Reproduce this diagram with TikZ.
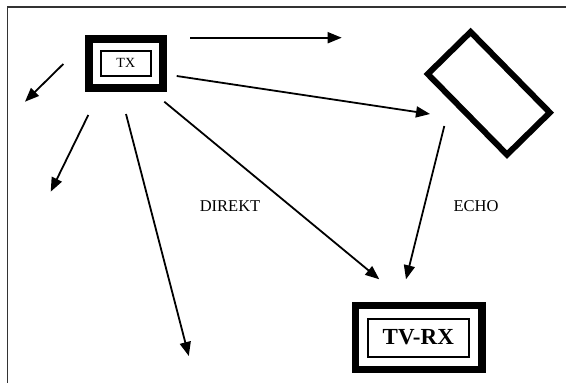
\documentclass[tikz,border=0pt]{standalone}
\usepackage{fontspec}
\setmainfont{Liberation Serif}
\usetikzlibrary{arrows.meta}
\begin{document}
\begin{tikzpicture}[x=1pt,y=-1pt,
  ray/.style={line width=1.8pt,-{Triangle[length=14pt,width=11pt]}},
  thickbox/.style={draw,line width=8pt,inner sep=0pt,rectangle},
  thinbox/.style={draw,line width=1.6pt,inner sep=0pt,rectangle},
  lbl/.style={font=\fontsize{16.5}{18}\selectfont}]
\useasboundingbox (0,0) rectangle (566,383);
\draw[line width=1.3pt,color=black!80] (7.5,383) -- (7.5,7) -- (566,7);
% TX
\node[thickbox,minimum width=74pt,minimum height=49pt] (tx) at (126.2,63.3) {};
\node[thinbox,minimum width=50pt,minimum height=25pt,font=\fontsize{14}{16}\selectfont] (txin) at (125.8,63.3) {TX};
% TV-RX
\node[thickbox,line width=7.7pt,minimum width=126.5pt,minimum height=64pt] (rx) at (418.8,337.5) {};
\node[thinbox,line width=2pt,minimum width=101pt,minimum height=38pt,font=\fontsize{23}{25}\selectfont\bfseries] (rxin) at (418.3,337.5) {TV-RX};
% Echo reflector
\node[draw,line width=6pt,rectangle,inner sep=0pt,minimum width=113pt,minimum height=60pt,rotate=-45.5] (echo) at (488.8,93.3) {};
% labels
\node[lbl] (direkt) at (230,206) {DIREKT};
\node[lbl] (echolbl) at (476,206) {ECHO};
% coordinates
\coordinate (a1s) at (63.3,64);   \coordinate (a1e) at (25,101.7);
\coordinate (a2s) at (88.3,115);  \coordinate (a2e) at (50.7,191.7);
\coordinate (a3s) at (126,114);   \coordinate (a3e) at (188.8,356);
\coordinate (a4s) at (164.3,101.7); \coordinate (a4e) at (379.3,279.3);
\coordinate (a5s) at (190,37.7);  \coordinate (a5e) at (341.7,37.7);
\coordinate (a6s) at (176.7,76);  \coordinate (a6e) at (430,114);
\coordinate (a7s) at (444.3,126); \coordinate (a7e) at (406,279.3);
\draw[ray] (a1s) -- (a1e);
\draw[ray] (a2s) -- (a2e);
\draw[ray] (a3s) -- (a3e);
\draw[ray] (a4s) -- (a4e);
\draw[ray] (a5s) -- (a5e);
\draw[ray] (a6s) -- (a6e);
\draw[ray] (a7s) -- (a7e);
\end{tikzpicture}
\end{document}
